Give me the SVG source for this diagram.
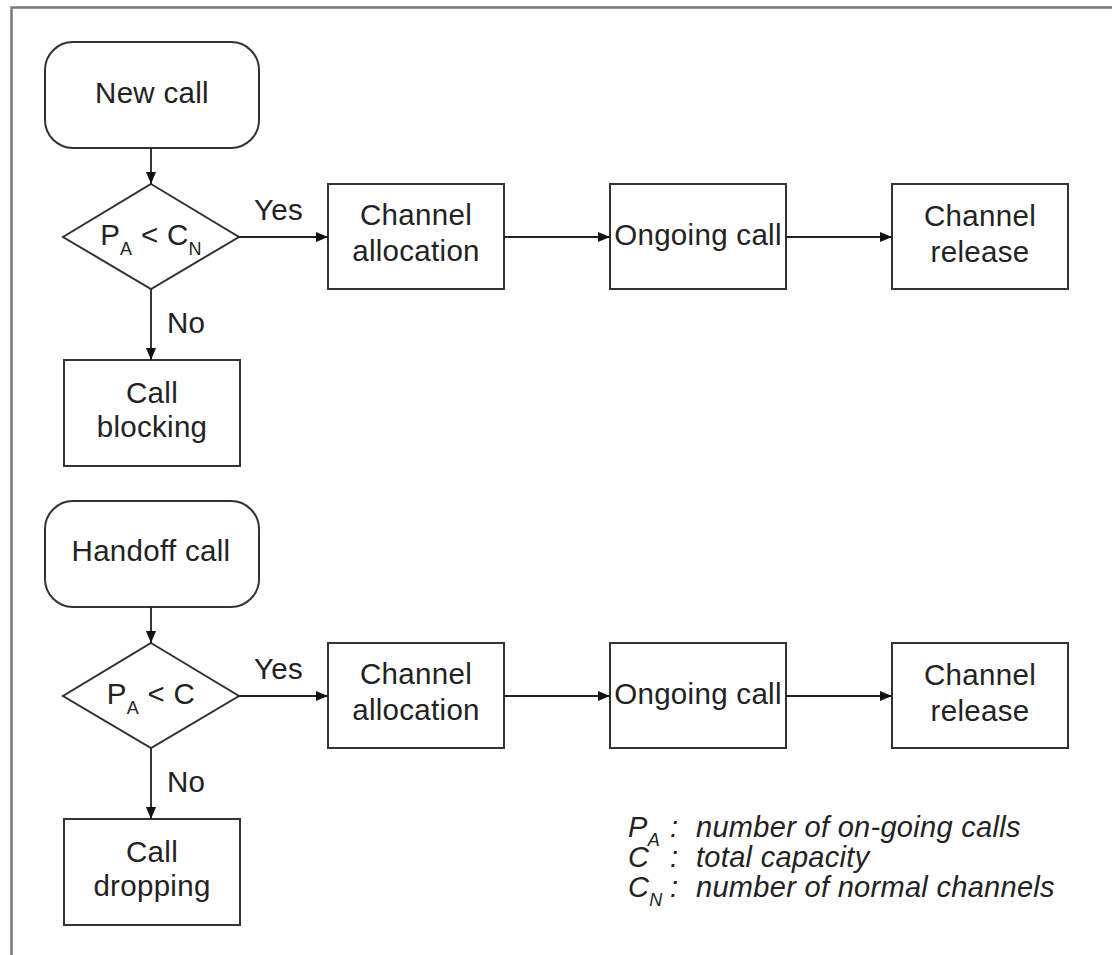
<svg xmlns="http://www.w3.org/2000/svg" width="1112" height="955" viewBox="0 0 1112 955">
  <defs>
    <marker id="arrow" viewBox="0 0 12 10" refX="12" refY="5" markerWidth="12" markerHeight="10" markerUnits="userSpaceOnUse" orient="auto">
      <path d="M0,0 L12,5 L0,10 z" fill="#111"/>
    </marker>
  </defs>
  <style>
    .shape { fill: #fff; stroke: #333; stroke-width: 2; }
    .label { font-family: "Liberation Sans", Arial, sans-serif; font-size: 29.5px; letter-spacing: 0.3px; fill: #222; text-anchor: middle; }
    .edge-label { font-family: "Liberation Sans", Arial, sans-serif; font-size: 29.5px; letter-spacing: 0.3px; fill: #222; }
    .sub { font-size: 18px; }
    .legend { font-family: "Liberation Sans", Arial, sans-serif; font-size: 29px; letter-spacing: 0.3px; font-style: italic; fill: #222; }
    .edge { fill: none; stroke: #222; stroke-width: 1.8; marker-end: url(#arrow); }
  </style>

  <rect width="1112" height="955" fill="#fff"/>
  <!-- frame -->
  <path d="M11.5,955 V7.5 H1112" fill="none" stroke="#7a7a7a" stroke-width="2.5"/>

  <!-- new call flow -->
  <g id="new-call">
    <rect class="shape" x="45" y="42" width="214" height="106" rx="28" ry="28"/>
    <text class="label" x="152" y="103">New call</text>
  </g>
  <g id="check-new">
    <polygon class="shape" points="151,184 239,237 151,289 63,237"/>
    <text class="label" x="151" y="245">P<tspan class="sub" dy="10">A</tspan><tspan dy="-10"> &lt; C</tspan><tspan class="sub" dy="10">N</tspan></text>
  </g>
  <g id="alloc-new">
    <rect class="shape" x="328" y="184" width="176" height="105"/>
    <text class="label" x="416" y="225">Channel</text>
    <text class="label" x="416" y="261">allocation</text>
  </g>
  <g id="ongoing-new">
    <rect class="shape" x="610" y="184" width="176" height="105"/>
    <text class="label" x="698" y="245">Ongoing call</text>
  </g>
  <g id="release-new">
    <rect class="shape" x="892" y="184" width="176" height="105"/>
    <text class="label" x="980" y="226">Channel</text>
    <text class="label" x="980" y="262">release</text>
  </g>
  <g id="blocking">
    <rect class="shape" x="64" y="360" width="176" height="106"/>
    <text class="label" x="152" y="403">Call</text>
    <text class="label" x="152" y="437">blocking</text>
  </g>

  <!-- handoff call flow -->
  <g id="handoff-call">
    <rect class="shape" x="45" y="501" width="214" height="106" rx="28" ry="28"/>
    <text class="label" x="151" y="561">Handoff call</text>
  </g>
  <g id="check-handoff">
    <polygon class="shape" points="151,643 239,696 151,748 63,696"/>
    <text class="label" x="151" y="704">P<tspan class="sub" dy="10">A</tspan><tspan dy="-10"> &lt; C</tspan></text>
  </g>
  <g id="alloc-handoff">
    <rect class="shape" x="328" y="643" width="176" height="105"/>
    <text class="label" x="416" y="684">Channel</text>
    <text class="label" x="416" y="720">allocation</text>
  </g>
  <g id="ongoing-handoff">
    <rect class="shape" x="610" y="643" width="176" height="105"/>
    <text class="label" x="698" y="704">Ongoing call</text>
  </g>
  <g id="release-handoff">
    <rect class="shape" x="892" y="643" width="176" height="105"/>
    <text class="label" x="980" y="685">Channel</text>
    <text class="label" x="980" y="721">release</text>
  </g>
  <g id="dropping">
    <rect class="shape" x="64" y="819" width="176" height="106"/>
    <text class="label" x="152" y="862">Call</text>
    <text class="label" x="152" y="896">dropping</text>
  </g>

  <!-- connectors -->
  <g id="connectors">
    <line class="edge" x1="151" y1="148" x2="151" y2="184"/>
    <line class="edge" x1="239" y1="237" x2="328" y2="237"/>
    <line class="edge" x1="504" y1="237" x2="610" y2="237"/>
    <line class="edge" x1="786" y1="237" x2="892" y2="237"/>
    <line class="edge" x1="151" y1="289" x2="151" y2="360"/>
    <text class="edge-label" x="254" y="220">Yes</text>
    <text class="edge-label" x="167" y="333">No</text>

    <line class="edge" x1="151" y1="607" x2="151" y2="643"/>
    <line class="edge" x1="239" y1="696" x2="328" y2="696"/>
    <line class="edge" x1="504" y1="696" x2="610" y2="696"/>
    <line class="edge" x1="786" y1="696" x2="892" y2="696"/>
    <line class="edge" x1="151" y1="748" x2="151" y2="819"/>
    <text class="edge-label" x="254" y="679">Yes</text>
    <text class="edge-label" x="167" y="792">No</text>
  </g>

  <!-- legend -->
  <g id="legend">
    <text class="legend" x="628" y="837">P<tspan class="sub" dy="9">A</tspan></text>
    <text class="legend" x="670" y="837">:</text>
    <text class="legend" x="696" y="837">number of on-going calls</text>
    <text class="legend" x="628" y="867">C</text>
    <text class="legend" x="670" y="867">:</text>
    <text class="legend" x="696" y="867">total capacity</text>
    <text class="legend" x="628" y="897">C<tspan class="sub" dy="9">N</tspan></text>
    <text class="legend" x="670" y="897">:</text>
    <text class="legend" x="696" y="897">number of normal channels</text>
  </g>
</svg>
